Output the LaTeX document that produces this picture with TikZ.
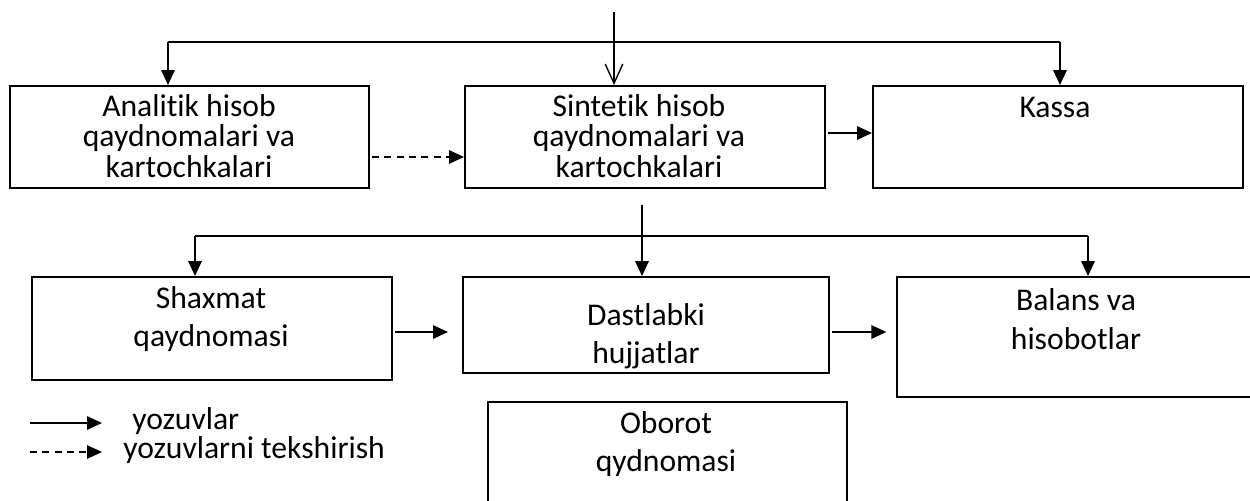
\documentclass[tikz,border=0pt]{standalone}
\usepackage{fontspec}
\setmainfont{Carlito}[Ligatures=NoCommon]
\usetikzlibrary{arrows.meta,fit}
\begin{document}
\begin{tikzpicture}[x=0.02cm,y=-0.02cm,
  box/.style={draw,line width=1.1pt,inner sep=0pt},
  lbl/.style={font=\fontsize{18}{17.2}\selectfont,align=center,inner sep=0pt},
  lblwide/.style={font=\fontsize{18}{21.8}\selectfont,align=center,inner sep=0pt},
  link/.style={line width=1.1pt,-{Triangle[length=8.5pt,width=7.6pt]}},
  dlink/.style={line width=1pt,dashed,dash pattern=on 4pt off 3pt,-{Triangle[length=8.5pt,width=7.6pt]}},
  bus/.style={line width=1.1pt}]
\clip (0,0) rectangle (1250,500);
\useasboundingbox (0,0) rectangle (1250,500);

% first row of boxes
\node[box,fit={(10,86) (369,188)}] (A) {};
\node[box,fit={(465,86) (825,188)}] (B) {};
\node[box,fit={(873,86) (1243,188)}] (C) {};
\node[lbl] (tA) at (189,136) {Analitik hisob\\qaydnomalari va\\kartochkalari};
\node[lbl] (tB) at (639,136) {Sintetik hisob\\qaydnomalari va\\kartochkalari};
\node[lbl] (tC) at (1055,107) {Kassa};

% second row of boxes
\node[box,fit={(32,277) (392,380)}] (D) {};
\node[box,fit={(463,277) (829,373)}] (E) {};
\node[box,fit={(897,277) (1262,397)}] (F) {};
\node[box,fit={(488,402) (847,512)}] (G) {};
\node[lblwide] (tD) at (211,319) {Shaxmat\\qaydnomasi};
\node[lblwide] (tE) at (646,336) {Dastlabki\\hujjatlar};
\node[lblwide] (tF) at (1076,319) {Balans va\\hisobotlar};
\node[lblwide] (tG) at (666,444) {Oborot\\qydnomasi};

% upper distribution lines
\coordinate (in1) at (614,12);
\coordinate (b1L) at (168,42);
\coordinate (b1R) at (1060,42);
\draw[line width=0.8pt,-{Straight Barb[length=11pt,width=10pt,line width=0.8pt]}] (in1) -- (in1 |- B.north);
\draw[bus] (b1L) -- (b1R);
\draw[link] (b1L) -- (b1L |- A.north);
\draw[link] (b1R) -- (b1R |- C.north);

% links between first-row boxes
\coordinate (dA) at (372,157);
\coordinate (sB) at (828,133);
\draw[dlink] (dA) -- (dA -| B.west);
\draw[link] (sB) -- (sB -| C.west);

% lower distribution lines
\coordinate (in2) at (642,205);
\coordinate (b2L) at (195,236);
\coordinate (b2R) at (1088,236);
\draw[link] (in2) -- (in2 |- E.north);
\draw[bus] (b2L) -- (b2R);
\draw[link] (b2L) -- (b2L |- D.north);
\draw[link] (b2R) -- (b2R |- F.north);

% links between second-row boxes
\coordinate (sD) at (395,332);
\coordinate (sE) at (832,332);
\draw[link] (sD) -- ([xshift=-8pt]sD -| E.west);
\draw[link] (sE) -- ([xshift=-5.5pt]sE -| F.west);

% legend
\coordinate (l1) at (30,423);
\coordinate (l1e) at (102,423);
\coordinate (l2) at (30,452);
\coordinate (l2e) at (102,452);
\draw[link] (l1) -- (l1e);
\draw[dlink] (l2) -- (l2e);
\node[lbl,anchor=west] (k1) at (132,421) {yozuvlar};
\node[lbl,anchor=west] (k2) at (123,450) {yozuvlarni tekshirish};
\end{tikzpicture}
\end{document}
